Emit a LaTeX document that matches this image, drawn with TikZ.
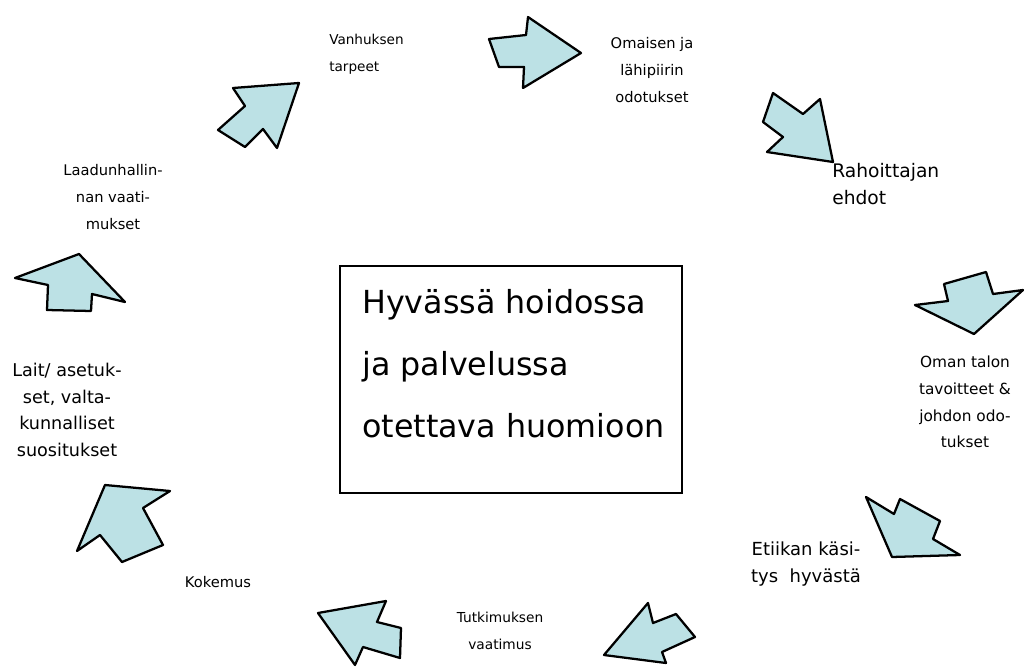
\documentclass[tikz,border=0pt]{standalone}
\usepackage{fontspec}
\setmainfont{DejaVu Sans}
\usetikzlibrary{positioning}
\definecolor{flowblue}{HTML}{BCE1E5}
\tikzset{
  flow/.style  ={fill=flowblue, draw=black, line width=1.7pt, line join=round},
  lbl/.style   ={font=\fontsize{11}{20}\selectfont, align=center, inner sep=0pt},
  bigtxt/.style={font=\fontsize{23.8}{46.5}\selectfont, align=left, inner sep=0pt},
  mainbox/.style={draw=black, line width=1pt, minimum width=256.5pt, minimum height=170.25pt},
}
\newcommand{\lsize}[1]{\fontsize{#1}{20}\selectfont}
\begin{document}
\begin{tikzpicture}[x=0.75pt,y=-0.75pt]
  \useasboundingbox (0,0) rectangle (1025,668);
  % centre box
  \node[mainbox] (centre) at (511,379.5) {};
  \node[bigtxt, anchor=base west] (centretxt) at (362,437) {Hyvässä hoidossa\\ja palvelussa\\otettava huomioon};
  % labels round the circle
  \node[lbl, font=\lsize{10.2}, align=left, anchor=west] (tarpeet) at (329,54) {Vanhuksen\\tarpeet};
  \node[lbl] (omaiset) at (652,70) {Omaisen ja\\lähipiirin\\odotukset};
  \node[lbl, font=\lsize{14}, align=left, anchor=west] (rahoitus) at (832,184) {Rahoittajan\\ehdot};
  \node[lbl, font=\lsize{11.5}] (talo) at (965,402) {Oman talon\\tavoitteet \&\\johdon odo-\\tukset};
  \node[lbl, font=\lsize{13.5}] (etiikka) at (806,564) {Etiikan käsi-\\tys\ \ hyvästä};
  \node[lbl, font=\lsize{10.3}] (tutkimus) at (500,631) {Tutkimuksen\\vaatimus};
  \node[lbl] (kokemus) at (218,582) {Kokemus};
  \node[lbl, font=\lsize{13.2}] (lait) at (67,410) {Lait/ asetuk-\\set, valta-\\kunnalliset\\suositukset};
  \node[lbl] (laatu) at (113,197) {Laadunhallin-\\nan vaati-\\mukset};
  % block arrows, clockwise from the top left
  \draw[flow] (233,88) -- (299,83) -- (277,148) -- (263,129) -- (245,147) -- (218,130) -- (245,106) -- cycle;
  \draw[flow] (528,17) -- (581,53) -- (523,88) -- (524,67) -- (499,67) -- (489,39) -- (526,35) -- cycle;
  \draw[flow] (773,93) -- (803,114) -- (820,99) -- (833,162) -- (767,152) -- (783,137) -- (763,122) -- cycle;
  \draw[flow] (944,284) -- (948,301) -- (915,305) -- (974,334) -- (1023,290) -- (993,294) -- (986,272) -- cycle;
  \draw[flow] (866,497) -- (894,514) -- (900,499) -- (940,521) -- (933,539) -- (960,555) -- (892,557) -- cycle;
  \draw[flow] (648,603) -- (653,623) -- (676,614) -- (695,637) -- (662,652) -- (666,663) -- (604,655) -- cycle;
  \draw[flow] (318,613) -- (386,601) -- (377,622) -- (401,628) -- (400,658) -- (363,647) -- (355,665) -- cycle;
  \draw[flow] (105,485) -- (170,491) -- (143,508) -- (163,545) -- (122,562) -- (100,535) -- (77,551) -- cycle;
  \draw[flow] (15,278) -- (79,254) -- (125,302) -- (92,294) -- (91,311) -- (47,310) -- (48,285) -- cycle;
\end{tikzpicture}
\end{document}
